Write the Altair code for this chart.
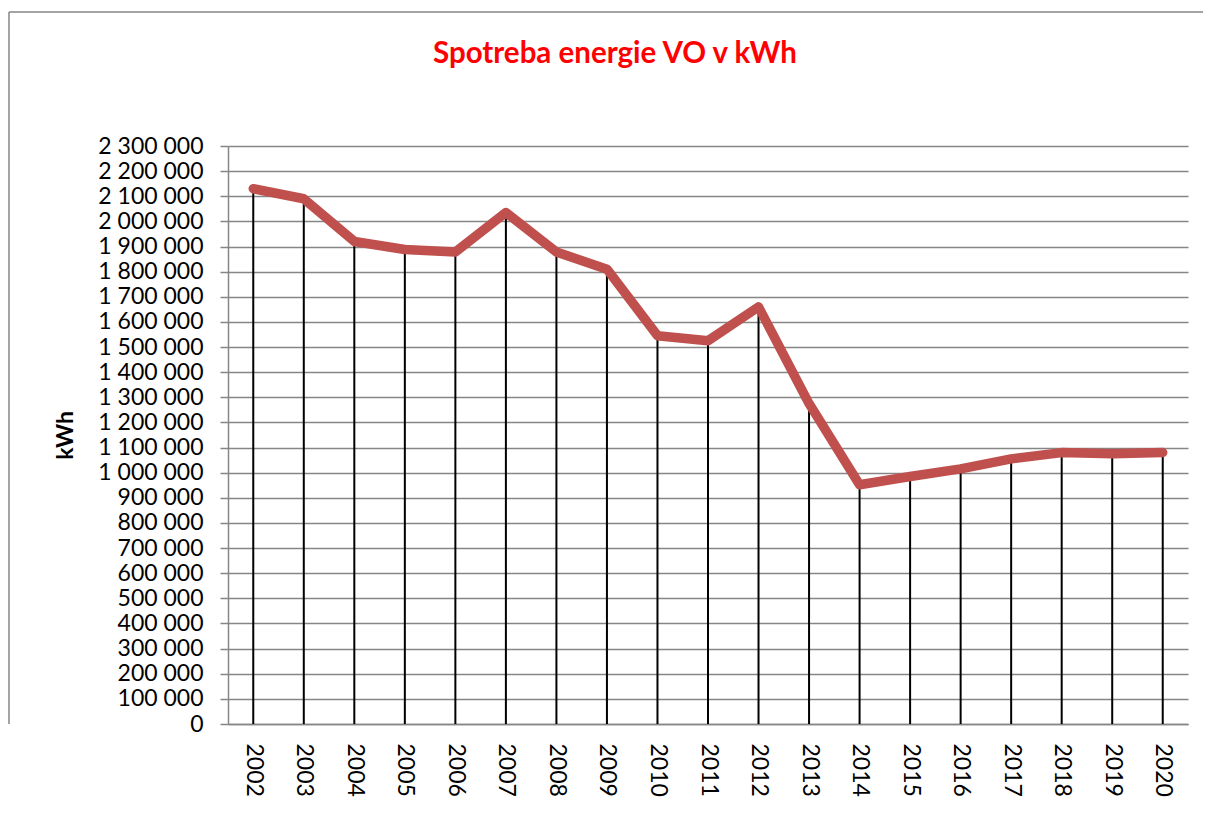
import altair as alt
import pandas as pd

years = [str(y) for y in range(2002, 2021)]
values = [2130000, 2090000, 1920000, 1888000, 1878000, 2035000, 1878000, 1810000,
          1545000, 1525000, 1660000, 1275000, 952000, 985000, 1015000, 1055000,
          1080000, 1075000, 1080000]
y_ticks = list(range(0, 2300001, 100000))

df = pd.DataFrame({"year": years, "kwh": values})

FONT = "Lato"
W, H = 960, 578

x_enc = alt.X("year:N", sort=years, title=None,
              scale=alt.Scale(type="point", padding=0.5),
              axis=alt.Axis(labelAngle=90, labelFontSize=23, labelFont=FONT,
                            labelColor="black", ticks=False, tickSize=0,
                            labelPadding=19, domainColor="#868686",
                            domainWidth=1.5, grid=False, labelOverlap=False))
y_enc = alt.Y("kwh:Q", title="kWh",
              scale=alt.Scale(domain=[0, 2300000], nice=False),
              axis=alt.Axis(values=y_ticks, tickCount=24, labelOverlap=False,
                            labelExpr="replace(format(datum.value, ','), regexp(',', 'g'), ' ')",
                            labelFontSize=23, labelFont=FONT, labelColor="black",
                            labelPadding=17, tickSize=8, tickColor="#868686",
                            tickWidth=1.5, domainColor="#868686", domainWidth=1.5,
                            gridColor="#868686", gridWidth=1.5,
                            titleFont=FONT, titleFontSize=23, titleFontWeight="bold",
                            titleColor="black", titlePadding=20))

base = alt.Chart(df)

drops = base.mark_rule(color="black", strokeWidth=2).encode(
    x=x_enc, y=y_enc, y2=alt.datum(0))

line = base.mark_line(color="#C0504D", strokeWidth=9.5, strokeCap="round",
                      strokeJoin="round").encode(x=x_enc, y=y_enc)

edge = pd.DataFrame({"a": [0]})
border_top = alt.Chart(edge).mark_rule(color="#868686", strokeWidth=1.5).encode(
    x=alt.value(-219), x2=alt.value(W + 300), y=alt.value(-134), y2=alt.value(-134))
border_left = alt.Chart(edge).mark_rule(color="#868686", strokeWidth=1.5).encode(
    x=alt.value(-219), x2=alt.value(-219), y=alt.value(-134), y2=alt.value(H))

chart = alt.layer(drops, line, border_top, border_left).properties(
    width=W, height=H,
    autosize=alt.AutoSizeParams(type="none"),
    padding={"left": 220, "top": 138, "right": 15, "bottom": 76},
    title=alt.TitleParams("Spotreba energie VO v kWh", color="#FF0000",
                          font=FONT, fontSize=29.5, fontWeight="bold",
                          anchor="middle", dx=-93, offset=-58),
).configure_view(stroke=None)

chart.save("out.html", embed_options={"renderer": "svg", "actions": False})
